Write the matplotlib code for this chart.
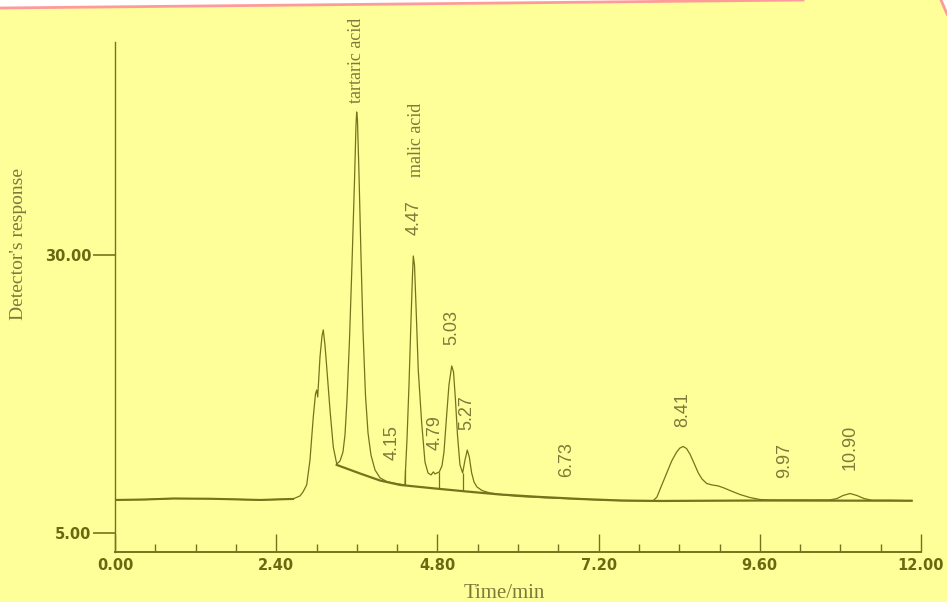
import matplotlib
matplotlib.use("Agg")
import matplotlib.pyplot as plt
from matplotlib.ticker import MultipleLocator, FixedLocator
from matplotlib.patches import Polygon
from matplotlib.lines import Line2D

# ---------------- data ----------------
# detector trace (time in min, response)
trace_t = [0.000, 0.447, 0.864, 1.414, 2.159, 2.650, 2.754, 2.799, 2.854, 2.903,
           2.952, 2.985, 3.003, 3.018, 3.052, 3.082, 3.101, 3.126, 3.152, 3.201,
           3.250, 3.301, 3.350, 3.394, 3.424, 3.454, 3.491, 3.528, 3.566, 3.588,
           3.598, 3.610, 3.633, 3.662, 3.692, 3.729, 3.767, 3.811, 3.871, 3.945,
           4.049, 4.139, 4.213, 4.288, 4.317, 4.325, 4.347, 4.377, 4.407, 4.429,
           4.441, 4.459, 4.481, 4.515, 4.566, 4.615, 4.660, 4.705, 4.739, 4.764,
           4.828, 4.868, 4.898, 4.938, 4.972, 5.013, 5.040, 5.069, 5.099, 5.136,
           5.176, 5.211, 5.245, 5.275, 5.310, 5.345, 5.389, 5.464, 5.583, 5.806,
           6.029, 6.402, 6.774, 7.221, 7.667, 8.010, 8.069, 8.129, 8.213, 8.288,
           8.362, 8.411, 8.460, 8.508, 8.560, 8.620, 8.684, 8.739, 8.809, 8.888,
           8.982, 9.066, 9.156, 9.305, 9.453, 9.602, 9.751, 10.198, 10.645, 10.750,
           10.839, 10.943, 11.047, 11.151, 11.270, 11.538, 11.861]
trace_v = [7.97, 8.01, 8.10, 8.08, 7.97, 8.06, 8.33, 8.69, 9.32, 11.56,
           15.43, 17.50, 17.86, 17.23, 20.83, 22.72, 23.26, 21.91, 19.93, 16.06,
           12.73, 11.21, 11.47, 12.28, 13.81, 16.96, 22.36, 29.10, 36.74, 41.69,
           42.86, 42.14, 37.19, 30.00, 23.26, 17.41, 13.99, 12.01, 10.67, 9.96,
           9.62, 9.50, 9.42, 9.35, 9.33, 10.67, 13.36, 18.31, 24.15, 28.20,
           29.91, 29.10, 25.50, 19.66, 14.89, 11.38, 10.40, 10.22, 10.49, 10.31,
           10.49, 11.03, 12.28, 15.61, 18.31, 20.02, 19.48, 16.96, 13.81, 11.12,
           10.40, 11.56, 12.46, 11.83, 10.40, 9.59, 9.14, 8.82, 8.60, 8.42,
           8.28, 8.17, 8.08, 7.97, 7.90, 7.88, 8.24, 9.14, 10.37, 11.47,
           12.28, 12.64, 12.78, 12.60, 12.10, 11.29, 10.40, 9.86, 9.45, 9.32,
           9.23, 9.05, 8.82, 8.46, 8.19, 8.01, 7.97, 7.97, 7.97, 8.10,
           8.37, 8.55, 8.37, 8.10, 7.94, 7.94, 7.90]

# integration baseline
base_t = [3.301, 3.648, 3.945, 4.243, 4.734, 5.236, 5.732, 6.327, 6.923, 7.519,
          8.114, 9.602, 11.861]
base_v = [11.12, 10.35, 9.72, 9.32, 9.02, 8.73, 8.46, 8.24, 8.06, 7.92,
          7.88, 7.92, 7.90]

# peak drop lines (time, top, bottom)
drop_t = [4.325, 4.828, 5.176]
drop_top = [10.67, 10.49, 10.40]
drop_bot = [9.30, 8.98, 8.76]

# peak labels (text, time, bottom of label)
label_txt = ["4.47", "4.15", "4.79", "5.03", "5.27", "6.73", "8.41", "9.97", "10.90"]
label_t = [4.46, 4.12, 4.76, 5.01, 5.24, 6.72, 8.46, 9.97, 10.94]
label_y = [31.8, 11.56, 12.46, 21.9, 14.26, 10.06, 14.56, 9.95, 10.67]

name_txt = ["tartaric acid", "malic acid"]
name_t = [3.60, 4.49]
name_y = [43.67, 37.0]

xmajor = [0.0, 2.4, 4.8, 7.2, 9.6, 12.0]
yticks = [5.0, 30.0]

# ---------------- styling ----------------
bg = "#ffff99"
ink = "#77731c"
tick_ink = "#6b6812"
text_ink = "#7d7a3a"

fig = plt.figure(figsize=(9.47, 6.02), dpi=100, facecolor=bg)
ax = fig.add_axes([115 / 947, 50 / 602, 806 / 947, 510 / 602])
ax.set_facecolor(bg)

ax.plot(trace_t, trace_v, color=ink, lw=0.9)
ax.plot(trace_t[:6], trace_v[:6], color=ink, lw=1.5)
ax.plot(base_t, base_v, color=ink, lw=1.6)
ax.vlines(drop_t, drop_bot, drop_top, color=ink, lw=0.9)

for s, x, y in zip(label_txt, label_t, label_y):
    ax.text(x, y, s, rotation=90, ha="center", va="bottom", fontsize=13,
            family="Liberation Sans", color=text_ink)
for s, x, y in zip(name_txt, name_t, name_y):
    ax.text(x, y, s, rotation=90, ha="center", va="bottom", fontsize=13,
            family="Liberation Serif", color=text_ink)

ax.set_xlim(0, 12)
ax.set_ylim(3.29, 49.15)
for side in ["top", "right"]:
    ax.spines[side].set_visible(False)
ax.spines["left"].set_color(ink)
ax.spines["left"].set_linewidth(1.0)
ax.spines["bottom"].set_color(ink)
ax.spines["bottom"].set_linewidth(1.4)

ax.xaxis.set_major_locator(FixedLocator(xmajor))
ax.xaxis.set_minor_locator(MultipleLocator(0.6))
ax.set_xticklabels(["%.2f" % v for v in xmajor])
ax.set_yticks(yticks)
ax.set_yticklabels(["%.2f" % v for v in yticks])

ax.tick_params(axis="x", which="major", direction="in", length=13, width=1.0,
               color=ink, pad=4, labelsize=10.5, labelcolor=tick_ink)
ax.tick_params(axis="x", which="minor", direction="in", length=6, width=1.0, color=ink)
ax.tick_params(axis="y", which="major", direction="out", length=16, width=1.2,
               color=ink, pad=1, labelsize=10.5, labelcolor=tick_ink)
for lab in ax.get_xticklabels() + ax.get_yticklabels():
    lab.set_fontweight("bold")

fig.text(18.3 / 947, 1 - 244 / 602, "Detector's response", rotation=90,
         ha="center", va="center", fontsize=14, family="Liberation Serif", color=text_ink)
fig.text(504 / 947, 1 - 593 / 602, "Time/min", ha="center", va="center",
         fontsize=15, family="Liberation Serif", color=text_ink)

# torn-page edge at the top
fig.add_artist(Polygon([[0, 1], [0, 1 - 8 / 602], [803 / 947, 1]], closed=True,
                       transform=fig.transFigure, facecolor="white", edgecolor="none"))
fig.add_artist(Line2D([0, 803 / 947], [1 - 8 / 602, 1], transform=fig.transFigure,
                      color="#ff9a9a", lw=2))
fig.add_artist(Polygon([[941 / 947, 1], [1, 1], [1, 1 - 14 / 602]], closed=True,
                       transform=fig.transFigure, facecolor="white", edgecolor="none"))
fig.add_artist(Line2D([941 / 947, 1], [1, 1 - 14 / 602], transform=fig.transFigure,
                      color="#ff9a9a", lw=2))

fig.savefig("out.png", dpi=100, facecolor=bg)
